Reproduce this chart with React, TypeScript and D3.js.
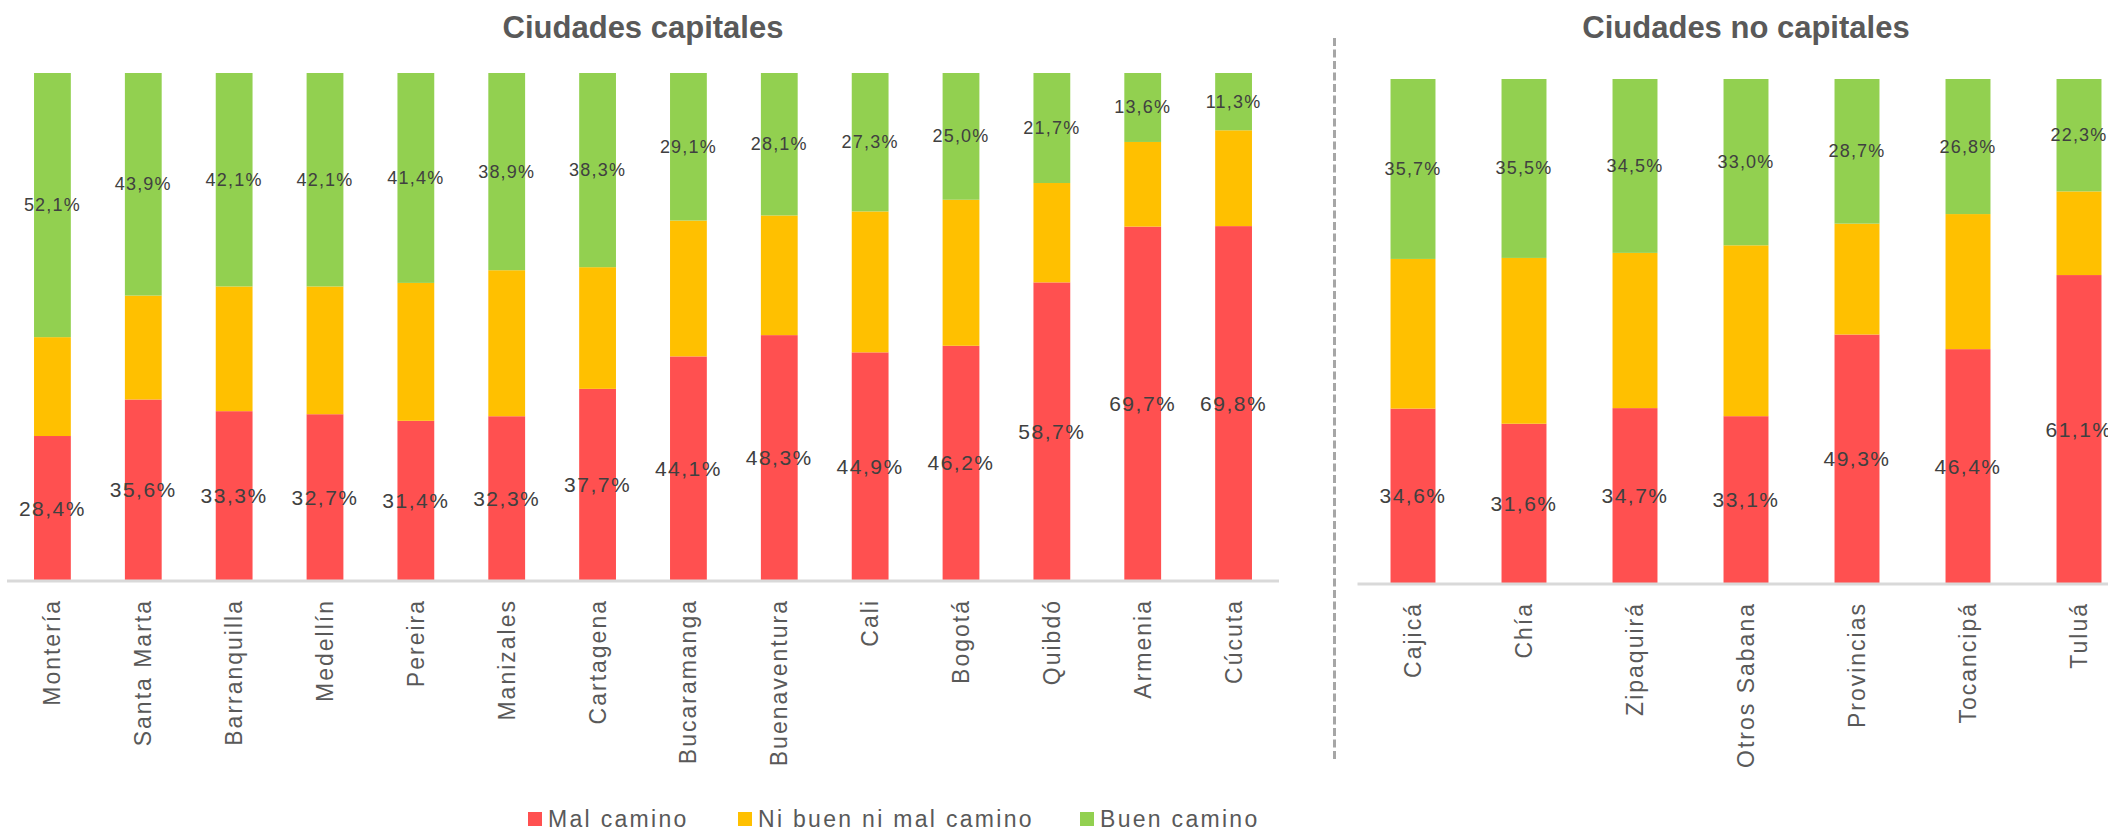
import React from "react";
import * as d3 from "d3";

const capCities = ["Montería", "Santa Marta", "Barranquilla", "Medellín", "Pereira", "Manizales", "Cartagena", "Bucaramanga", "Buenaventura", "Cali", "Bogotá", "Quibdó", "Armenia", "Cúcuta"];
const capMal = [28.4, 35.6, 33.3, 32.7, 31.4, 32.3, 37.7, 44.1, 48.3, 44.9, 46.2, 58.7, 69.7, 69.8];
const capNi = [19.5, 20.5, 24.6, 25.2, 27.2, 28.8, 24.0, 26.8, 23.6, 27.8, 28.8, 19.6, 16.7, 18.9];
const capBuen = [52.1, 43.9, 42.1, 42.1, 41.4, 38.9, 38.3, 29.1, 28.1, 27.3, 25.0, 21.7, 13.6, 11.3];

const nonCities = ["Cajicá", "Chía", "Zipaquirá", "Otros Sabana", "Provincias", "Tocancipá", "Tuluá"];
const nonMal = [34.6, 31.6, 34.7, 33.1, 49.3, 46.4, 61.1];
const nonNi = [29.7, 32.9, 30.8, 33.9, 22.0, 26.8, 16.6];
const nonBuen = [35.7, 35.5, 34.5, 33.0, 28.7, 26.8, 22.3];

const seriesKeys = ["mal", "ni", "buen"];
const seriesNames = ["Mal camino", "Ni buen ni mal camino", "Buen camino"];
const seriesColors = ["#FF5050", "#FFC000", "#92D050"];

const FONT = "'Liberation Sans', Arial, sans-serif";
const TEXT = "#595959";
const LABEL = "#404040";

type PanelProps = {
  title: string;
  cities: string[];
  mal: number[];
  ni: number[];
  buen: number[];
  x0: number;
  x1: number;
  yTop: number;
  yBase: number;
  labelGap: number;
};

function Panel({ title, cities, mal, ni, buen, x0, x1, yTop, yBase, labelGap }: PanelProps) {
  const rows = cities.map((c, i) => ({ city: c, mal: mal[i], ni: ni[i], buen: buen[i] }));
  const x = d3.scaleBand<string>().domain(cities).range([x0, x1]).paddingInner(0.595).paddingOuter(0.2975);
  const y = d3.scaleLinear().domain([0, 100]).range([yBase, yTop]);
  const stack = d3.stack<any>().keys(seriesKeys)(rows);
  const bw = x.bandwidth();
  return (
    <g>
      <text x={(x0 + x1) / 2} y={38} textAnchor="middle" fontFamily={FONT} fontWeight="bold" fontSize={31} fill={TEXT}>
        {title}
      </text>
      {stack.map((layer, si) => (
        <g key={layer.key} fill={seriesColors[si]}>
          {layer.map((d, i) => (
            <rect key={i} x={x(cities[i])} y={y(d[1])} width={bw} height={y(d[0]) - y(d[1])} />
          ))}
        </g>
      ))}
      <line x1={x0} x2={x1} y1={yBase + 1} y2={yBase + 1} stroke="#D9D9D9" strokeWidth={3} />
      {stack.map((layer, si) =>
        si === 1
          ? null
          : layer.map((d, i) => (
              <text
                key={layer.key + i}
                x={(x(cities[i]) as number) + bw / 2}
                y={(y(d[0]) + y(d[1])) / 2}
                textAnchor="middle"
                dominantBaseline="central"
                fontFamily={FONT}
                fontSize={si === 0 ? 21 : 18}
                letterSpacing={si === 0 ? 1.5 : 1.2}
                fill={LABEL}
              >
                {(d[1] - d[0]).toFixed(1).replace(".", ",") + "%"}
              </text>
            ))
      )}
      {cities.map((c) => {
        const cx = (x(c) as number) + bw / 2;
        const ty = yBase + labelGap;
        return (
          <text
            key={c}
            transform={`translate(${cx},${ty}) rotate(-90)`}
            textAnchor="end"
            dominantBaseline="central"
            fontFamily={FONT}
            fontSize={23}
            letterSpacing={2}
            fill={TEXT}
          >
            {c}
          </text>
        );
      })}
    </g>
  );
}

export default function App() {
  const legendX = [528, 738, 1080];
  return (
    <svg
      width={2108}
      height={831}
      style={{ position: "absolute", left: 0, top: 0, background: "#fff" }}
    >
      <rect x={0} y={0} width={2108} height={831} fill="#fff" />
      <Panel
        title="Ciudades capitales"
        cities={capCities}
        mal={capMal}
        ni={capNi}
        buen={capBuen}
        x0={7}
        x1={1279}
        yTop={73}
        yBase={580}
        labelGap={19}
      />
      <line x1={1334.5} x2={1334.5} y1={38} y2={762} stroke="#A6A6A6" strokeWidth={3} strokeDasharray="8,3.5" />
      <Panel
        title="Ciudades no capitales"
        cities={nonCities}
        mal={nonMal}
        ni={nonNi}
        buen={nonBuen}
        x0={1357.5}
        x1={2134.5}
        yTop={79}
        yBase={583}
        labelGap={19}
      />
      {seriesNames.map((n, i) => (
        <g key={n}>
          <rect x={legendX[i]} y={812} width={14} height={14} fill={seriesColors[i]} />
          <text x={legendX[i] + 20} y={827} fontFamily={FONT} fontSize={23} letterSpacing={2.3} fill={TEXT}>
            {n}
          </text>
        </g>
      ))}
    </svg>
  );
}
